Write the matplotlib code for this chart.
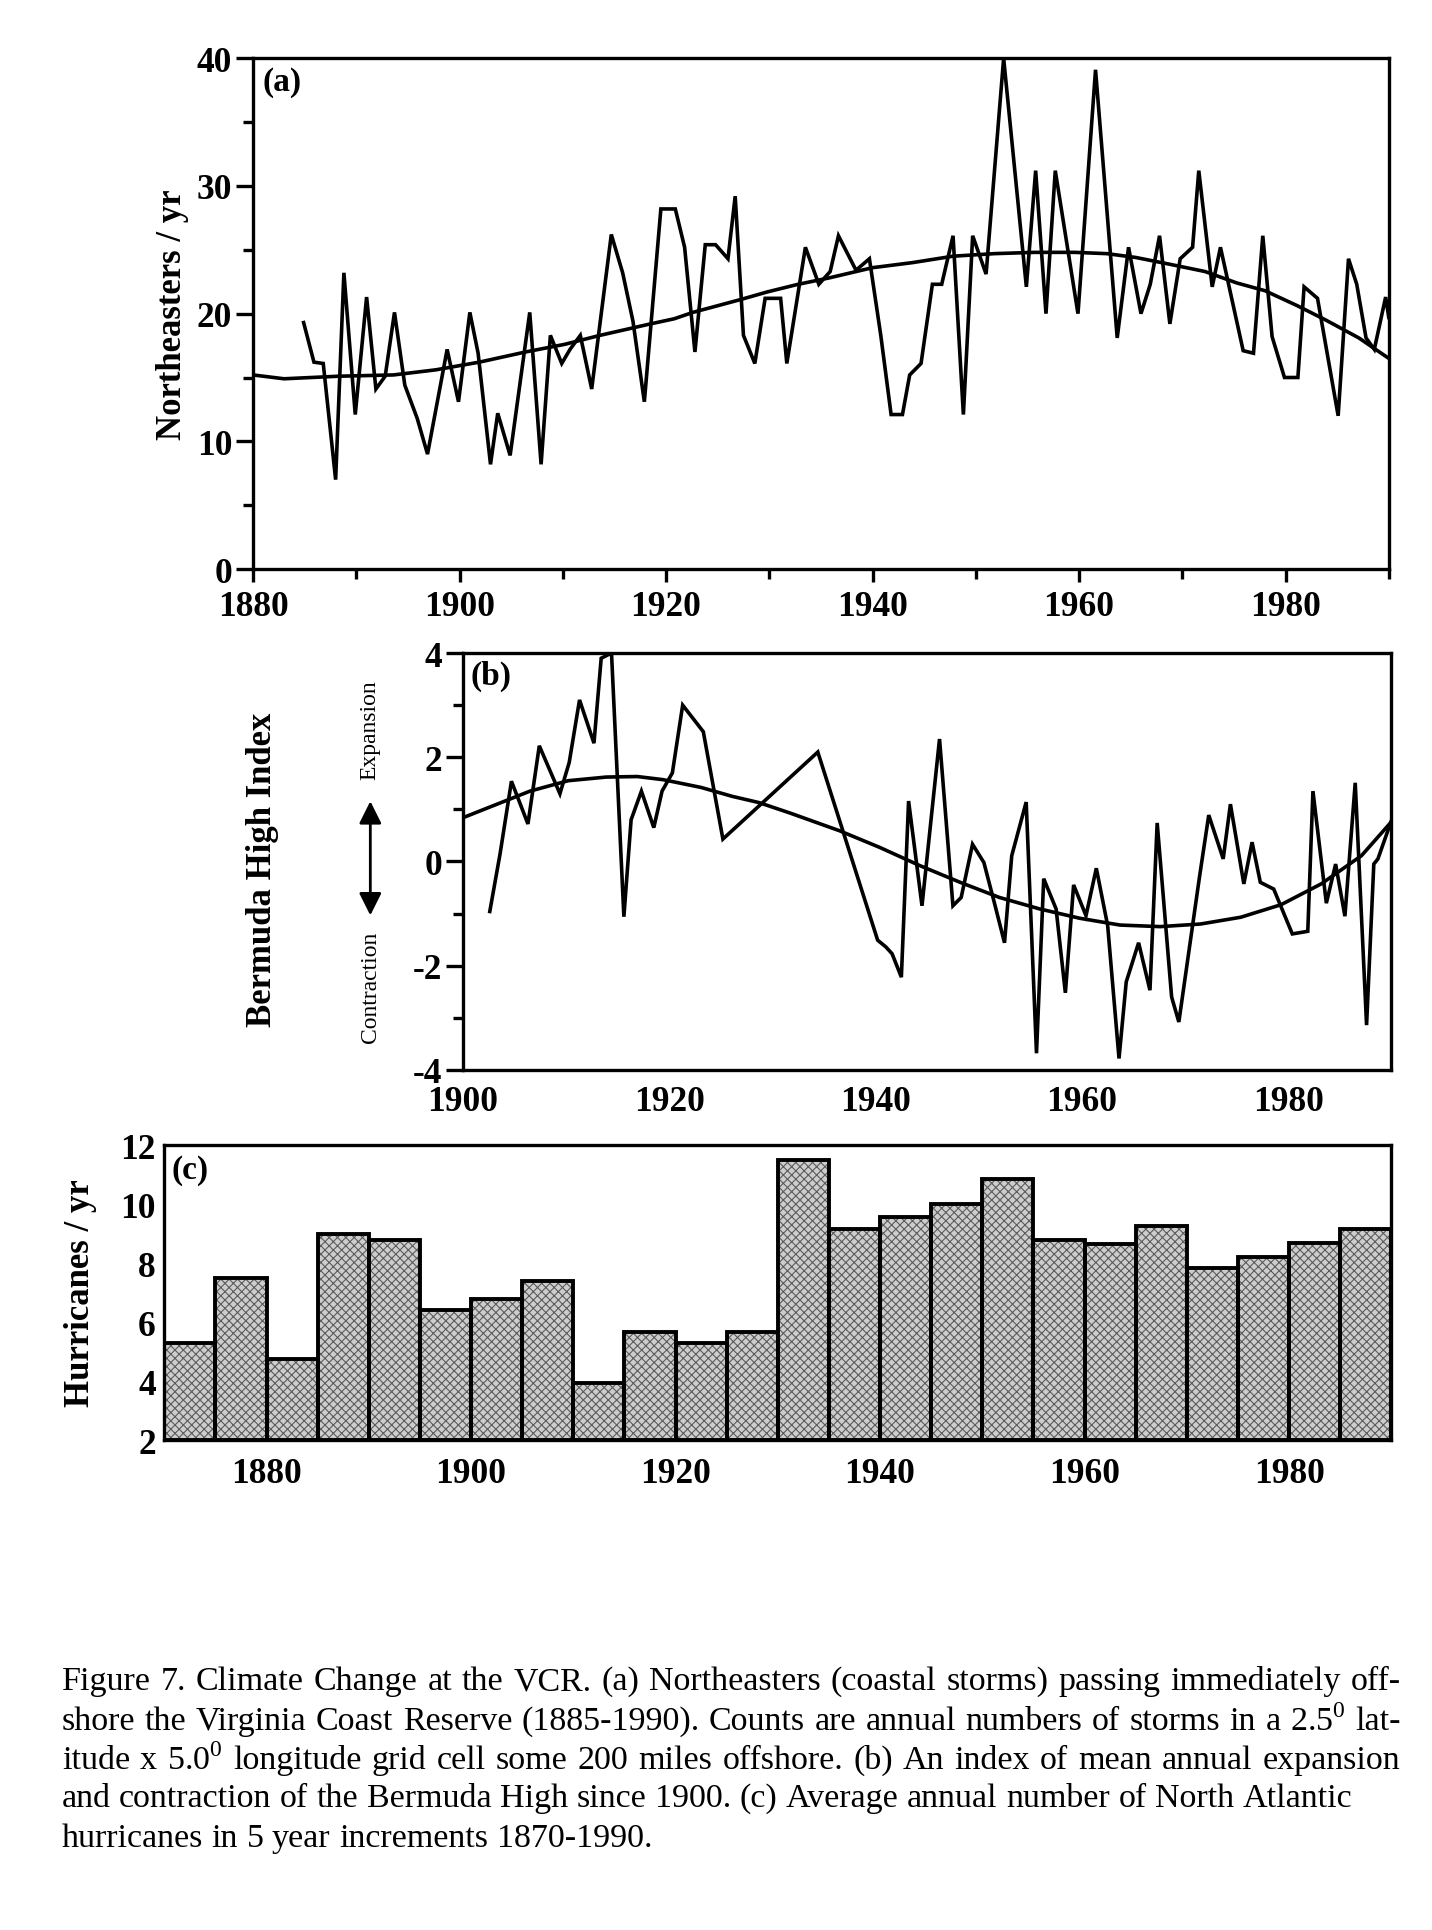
import matplotlib
matplotlib.use("Agg")
import matplotlib.pyplot as plt
from matplotlib.ticker import MultipleLocator

plt.rcParams['font.family'] = ['Liberation Serif', 'DejaVu Serif']
plt.rcParams['mathtext.fontset'] = 'custom'
plt.rcParams['mathtext.rm'] = 'Liberation Serif'
plt.rcParams['axes.unicode_minus'] = False
plt.rcParams['hatch.linewidth'] = 0.8

# ── (a) Northeasters per year ─────────────────────────────────────────────────
ne_years = [1884.9, 1885.9, 1886.8, 1888.0, 1888.8, 1889.9, 1891.0, 1891.9, 1892.8, 1893.7,
            1894.7, 1895.9, 1896.9, 1898.8, 1899.9, 1901.0, 1901.8, 1903.0, 1903.7, 1904.9,
            1906.8, 1907.9, 1908.8, 1909.9, 1910.7, 1911.7, 1912.8, 1914.7, 1915.8, 1916.8,
            1917.9, 1919.5, 1920.9, 1921.8, 1922.8, 1923.8, 1924.8, 1926.0, 1926.7, 1927.5,
            1928.6, 1929.6, 1931.1, 1931.7, 1933.5, 1934.8, 1935.9, 1936.7, 1938.4, 1939.7,
            1940.8, 1941.8, 1942.9, 1943.6, 1944.7, 1945.8, 1946.7, 1947.8, 1948.8, 1949.7,
            1951.0, 1952.7, 1954.9, 1955.8, 1956.8, 1957.7, 1959.9, 1961.6, 1963.7, 1964.8,
            1966.0, 1966.9, 1967.8, 1968.8, 1969.8, 1971.0, 1971.6, 1972.9, 1973.7, 1975.9,
            1976.9, 1977.8, 1978.7, 1979.9, 1981.2, 1981.8, 1983.1, 1985.1, 1986.1, 1986.9,
            1987.8, 1988.6, 1989.7, 1990.0]
ne_counts = [19.3, 16.2, 16.1, 7.0, 23.2, 12.1, 21.3, 14.1, 15.1, 20.1,
             14.4, 11.8, 9.0, 17.2, 13.1, 20.1, 16.9, 8.2, 12.2, 8.9,
             20.1, 8.2, 18.3, 16.1, 17.2, 18.3, 14.1, 26.2, 23.2, 19.4,
             13.1, 28.2, 28.2, 25.2, 17.0, 25.4, 25.4, 24.3, 29.2, 18.3,
             16.1, 21.2, 21.2, 16.1, 25.2, 22.3, 23.3, 26.1, 23.4, 24.3,
             18.3, 12.1, 12.1, 15.2, 16.1, 22.3, 22.3, 26.1, 12.1, 26.1,
             23.1, 40.0, 22.1, 31.2, 20.0, 31.2, 20.0, 39.1, 18.1, 25.2,
             20.0, 22.3, 26.1, 19.2, 24.3, 25.2, 31.2, 22.1, 25.2, 17.1,
             16.9, 26.1, 18.2, 15.0, 15.0, 22.1, 21.2, 12.0, 24.3, 22.3,
             18.1, 17.2, 21.3, 19.7]

ne_trend_years = [1880, 1883, 1888.3, 1893.6, 1897.7, 1901.9, 1906.4, 1910.2, 1913.6, 1918.5,
                  1920.8, 1922.6, 1927.2, 1929.8, 1932.8, 1935.8, 1940, 1943.9, 1947.8, 1951.8,
                  1955.7, 1959.6, 1962.7, 1965.5, 1968.6, 1972.2, 1975.3, 1978, 1981.2, 1983.9,
                  1987.1, 1990]
ne_trend = [15.2, 14.9, 15.1, 15.2, 15.6, 16.2, 17.0, 17.6, 18.3, 19.2,
            19.6, 20.1, 21.1, 21.7, 22.3, 22.8, 23.6, 24.0, 24.5, 24.7,
            24.8, 24.8, 24.7, 24.4, 23.9, 23.3, 22.4, 21.8, 20.6, 19.5,
            18.1, 16.5]

# ── (b) Bermuda High index ────────────────────────────────────────────────────
bh_years = [1902.6, 1903.6, 1904.7, 1906.3, 1907.4, 1909.4, 1910.3, 1911.3, 1912.7, 1913.4,
            1914.4, 1915.6, 1916.3, 1917.3, 1918.5, 1919.3, 1920.3, 1921.3, 1923.3, 1925.2,
            1934.4, 1940.2, 1941.0, 1941.6, 1942.5, 1943.2, 1944.5, 1946.2, 1947.5, 1948.3,
            1949.4, 1950.5, 1951.5, 1952.5, 1953.2, 1954.6, 1955.6, 1956.3, 1957.5, 1958.4,
            1959.2, 1960.4, 1961.4, 1962.5, 1963.6, 1964.3, 1965.5, 1966.6, 1967.3, 1968.7,
            1969.4, 1971.4, 1972.3, 1973.7, 1974.4, 1975.7, 1976.5, 1977.3, 1978.6, 1980.4,
            1981.9, 1982.4, 1983.7, 1984.6, 1985.5, 1986.5, 1987.6, 1988.3, 1988.7, 1990.0]
bh_index = [-0.96, 0.15, 1.54, 0.72, 2.22, 1.30, 1.90, 3.10, 2.27, 3.90,
            4.00, -1.06, 0.80, 1.35, 0.65, 1.35, 1.70, 3.00, 2.49, 0.43,
            2.10, -1.51, -1.64, -1.77, -2.22, 1.16, -0.85, 2.35, -0.85, -0.69,
            0.33, -0.02, -0.78, -1.56, 0.11, 1.14, -3.68, -0.33, -0.91, -2.52,
            -0.45, -1.04, -0.13, -1.23, -3.78, -2.31, -1.56, -2.47, 0.74, -2.60,
            -3.08, -0.30, 0.89, 0.05, 1.10, -0.43, 0.37, -0.40, -0.53, -1.39,
            -1.34, 1.35, -0.80, -0.05, -1.05, 1.51, -3.14, -0.05, 0.05, 0.78]

bh_trend_years = [1900, 1902.8, 1906.5, 1910.2, 1913.9, 1916.9, 1919.4, 1923.1, 1926.1, 1928.7,
                  1931.7, 1936.5, 1940.4, 1944.3, 1948.2, 1952, 1955.9, 1959.8, 1963.7, 1967.6,
                  1971.5, 1975.4, 1979.3, 1983.2, 1987.1, 1990]
bh_trend = [0.84, 1.06, 1.35, 1.55, 1.62, 1.63, 1.57, 1.42, 1.25, 1.13,
            0.93, 0.59, 0.27, -0.08, -0.40, -0.69, -0.91, -1.09, -1.22, -1.25,
            -1.20, -1.07, -0.83, -0.43, 0.11, 0.76]

# ── (c) Hurricanes per year, 5-year bins ──────────────────────────────────────
hu_start = [1870, 1875, 1880, 1885, 1890, 1895, 1900, 1905, 1910, 1915, 1920, 1925,
            1930, 1935, 1940, 1945, 1950, 1955, 1960, 1965, 1970, 1975, 1980, 1985]
hu_rate = [5.3, 7.5, 4.75, 9.0, 8.8, 6.4, 6.8, 7.4, 3.95, 5.65, 5.3, 5.65,
           11.5, 9.15, 9.55, 10.0, 10.85, 8.8, 8.65, 9.25, 7.85, 8.2, 8.7, 9.15]

caption = [
    "Figure 7. Climate Change at the VCR. (a) Northeasters (coastal storms) passing immediately off-",
    "shore the Virginia Coast Reserve (1885-1990). Counts are annual numbers of storms in a 2.5$^{\\mathrm{0}}$ lat-",
    "itude x 5.0$^{\\mathrm{0}}$ longitude grid cell some 200 miles offshore. (b) An index of mean annual expansion",
    "and contraction of the Bermuda High since 1900. (c) Average annual number of North Atlantic",
    "hurricanes in 5 year increments 1870-1990.",
]

tick_size = 25.5
lw_data = 2.6
lw_spine = 2.4

fig = plt.figure(figsize=(14.32, 19.31), dpi=100)


def style_axes(ax):
    for s in ax.spines.values():
        s.set_linewidth(lw_spine)
    for lab in ax.get_xticklabels() + ax.get_yticklabels():
        lab.set_fontsize(tick_size)
        lab.set_fontweight('bold')


# panel (a)
ax1 = fig.add_axes([0.1767, 0.7048, 0.9698 - 0.1767, 0.9693 - 0.7048])
ax1.plot(ne_years, ne_counts, color='black', lw=lw_data, solid_joinstyle='miter')
ax1.plot(ne_trend_years, ne_trend, color='black', lw=lw_data)
ax1.set_xlim(1880, 1990)
ax1.set_ylim(0, 40)
ax1.set_xticks([1880, 1900, 1920, 1940, 1960, 1980])
ax1.xaxis.set_minor_locator(MultipleLocator(10))
ax1.set_yticks([0, 10, 20, 30, 40])
ax1.yaxis.set_minor_locator(MultipleLocator(5))
ax1.tick_params(which='major', direction='out', length=12, width=2.4, pad=3)
ax1.tick_params(which='minor', direction='out', length=7, width=2.4)
ax1.tick_params(axis='x', which='major', length=9, pad=6)
style_axes(ax1)
ax1.text(0.008, 0.985, "(a)", transform=ax1.transAxes, fontsize=24,
         fontweight='bold', va='top', ha='left')

# panel (b)
ax2 = fig.add_axes([0.3233, 0.4454, 0.9716 - 0.3233, 0.6613 - 0.4454])
ax2.plot(bh_years, bh_index, color='black', lw=lw_data, solid_joinstyle='miter')
ax2.plot(bh_trend_years, bh_trend, color='black', lw=lw_data)
ax2.set_xlim(1900, 1990)
ax2.set_ylim(-4, 4)
ax2.set_xticks([1900, 1920, 1940, 1960, 1980])
ax2.set_yticks([-4, -2, 0, 2, 4])
ax2.yaxis.set_minor_locator(MultipleLocator(1))
ax2.tick_params(axis='y', which='major', direction='out', length=12, width=2.4, pad=3)
ax2.tick_params(axis='y', which='minor', direction='out', length=7, width=2.4)
ax2.tick_params(axis='x', length=0, pad=11)
style_axes(ax2)
ax2.text(0.008, 0.985, "(b)", transform=ax2.transAxes, fontsize=24,
         fontweight='bold', va='top', ha='left')

# panel (c)
ax3 = fig.add_axes([0.1147, 0.2537, 0.9716 - 0.1147, 0.4064 - 0.2537])
ax3.bar(hu_start, [v - 2 for v in hu_rate], width=5, bottom=2, align='edge',
        facecolor='#cdcdcd', edgecolor='#5c5c5c', hatch='xxxx', linewidth=0)
ax3.bar(hu_start, [v - 2 for v in hu_rate], width=5, bottom=2, align='edge',
        fill=False, edgecolor='black', linewidth=2.8)
ax3.set_xlim(1870, 1990)
ax3.set_ylim(2, 12)
ax3.set_xticks([1880, 1900, 1920, 1940, 1960, 1980])
ax3.set_yticks([2, 4, 6, 8, 10, 12])
ax3.tick_params(length=0)
ax3.tick_params(axis='x', pad=12)
ax3.tick_params(axis='y', pad=6)
style_axes(ax3)
ax3.text(0.006, 0.97, "(c)", transform=ax3.transAxes, fontsize=24,
         fontweight='bold', va='top', ha='left')

# axis titles
fig.text(0.1207, 0.837, "Northeasters / yr", rotation=90, fontsize=25,
         fontweight='bold', ha='center', va='center')
fig.text(0.1836, 0.5495, "Bermuda High Index", rotation=90, fontsize=25,
         fontweight='bold', ha='center', va='center')
fig.text(0.2586, 0.6217, "Expansion", rotation=90, fontsize=17,
         ha='center', va='center')
fig.text(0.2586, 0.4888, "Contraction", rotation=90, fontsize=17,
         ha='center', va='center')
fig.add_artist(matplotlib.patches.FancyArrowPatch(
    (0.2586, 0.524), (0.2586, 0.586), transform=fig.transFigure,
    arrowstyle='<|-|>', mutation_scale=34, color='black', lw=2))
fig.text(0.056, 0.3304, "Hurricanes / yr", rotation=90, fontsize=25,
         fontweight='bold', ha='center', va='center')

# caption: first three lines justified like the printed page
cap_left, cap_right = 0.0431, 0.978
cap_y = [0.129, 0.1086, 0.0882, 0.0684, 0.0479]
cap_size = 24.5
renderer = fig.canvas.get_renderer()
fig_w = fig.get_figwidth() * fig.dpi
space = cap_size * fig.dpi / 72 * 0.25 / fig_w
for i, line in enumerate(caption):
    words = line.split(' ')
    texts = [fig.text(0, cap_y[i], w, fontsize=cap_size, ha='left', va='center') for w in words]
    widths = [t.get_window_extent(renderer).width / fig_w for t in texts]
    if i < 3:
        gap = (cap_right - cap_left - sum(widths)) / (len(words) - 1)
    else:
        gap = space
    x = cap_left
    for t, w in zip(texts, widths):
        t.set_x(x)
        x += w + gap

fig.savefig("out.png", dpi=100)
